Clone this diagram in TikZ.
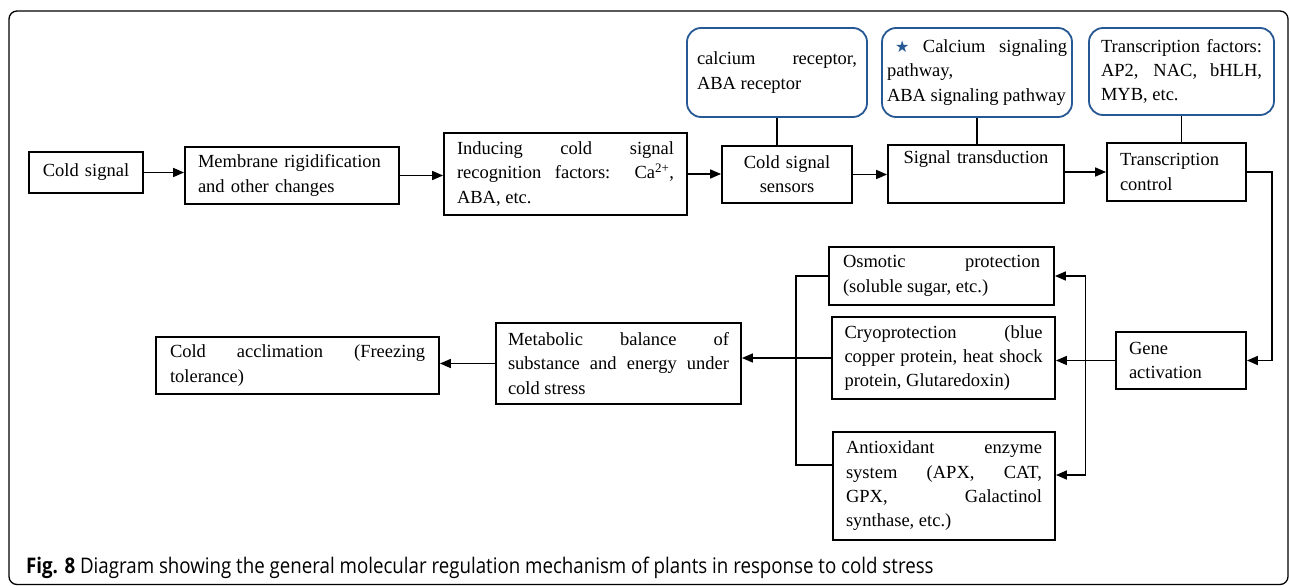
\documentclass[tikz,border=0pt]{standalone}
\usepackage{fontspec}
\setmainfont{Liberation Serif}
\newfontfamily\capfont[FakeStretch=0.87]{Open Sans}
\newfontfamily\symfont{DejaVu Sans}
\usetikzlibrary{arrows.meta,calc}
\definecolor{boxblue}{RGB}{38,88,148}
\tolerance=10000 \hbadness=10000 \hyphenpenalty=10000

\begin{document}
\begin{tikzpicture}[x=1pt,y=-1pt,
    box/.style={draw,line width=1.8pt,inner ysep=0pt,inner xsep=13pt,align=justify,
                font=\fontsize{18.5}{24.3}\selectfont},
    note/.style={box,draw=boxblue,rounded corners=14pt},
    flow/.style={line width=1.6pt,-{Triangle[length=11pt,width=9pt]}},
    link/.style={line width=1.6pt}]
            \useasboundingbox (0,0) rectangle (1290,586);
            \draw[line width=1.3pt,rounded corners=8pt] (9,11) rectangle (1288,584.5);

            % upper row
            \node[box,text width=88pt,minimum height=41pt,align=center] (cold) at (86,172.5) {Cold signal};
            \node[box,text width=188pt,minimum height=57pt,align=left] (memb) at (292,175.5) {Membrane rigidification\\and other changes};
            \node[box,text width=217pt,minimum height=82pt] (induc) at (565.5,174) {Inducing cold signal\linebreak recognition factors: Ca\textsuperscript{2+},\linebreak ABA, etc.};
            \node[box,text width=104pt,minimum height=57pt,align=center] (sens) at (787,174.5) {Cold signal\\sensors};
            \node[box,text width=150pt,minimum height=58pt,align=center,text height=11pt,text depth=33pt] (trans) at (976,174) {Signal transduction};
            \node[box,text width=113pt,minimum height=58pt,align=left] (tctrl) at (1176.5,172) {Transcription\\control};

            % notes above
            \node[note,inner xsep=10pt,text width=160pt,minimum height=89pt] (rec) at (777,72.5) {calcium receptor,\linebreak ABA receptor};
            \node[note,inner xsep=5pt,text width=180pt,minimum height=89pt] (path) at (977,72.5) {\hspace*{8pt}{\symfont\color{boxblue}\fontsize{16}{16}\selectfont ★} Calcium signaling\linebreak pathway,\\ABA signaling pathway};
            \node[note,inner xsep=12pt,text width=161pt,minimum height=87pt] (tf) at (1181.5,71.5) {Transcription factors:\linebreak AP2, NAC, bHLH,\linebreak MYB, etc.};

            % lower row
            \node[box,text width=104pt,minimum height=57pt,align=left] (gene) at (1181,360.5) {Gene\\activation};
            \node[box,inner xsep=14pt,text width=197pt,minimum height=58pt] (osmo) at (941.5,276) {Osmotic protection\linebreak (soluble sugar, etc.)};
            \node[box,inner xsep=12.5pt,text width=198pt,minimum height=82pt] (cryo) at (943.5,358) {Cryoprotection (blue\linebreak copper protein, heat shock\linebreak protein, Glutaredoxin)};
            \node[box,text width=196pt,minimum height=108pt] (antiox) at (944,486) {Antioxidant enzyme\linebreak system (APX, CAT,\linebreak GPX, Galactinol\linebreak synthase, etc.)};
            \node[box,inner xsep=12pt,text width=221pt,minimum height=81pt] (metab) at (618.5,363.5) {Metabolic balance of\linebreak substance and energy under\linebreak cold stress};
            \node[box,inner xsep=14pt,text width=255pt,minimum height=57pt] (accl) at (297.5,365.5) {Cold acclimation (Freezing\linebreak tolerance)};

            \coordinate (split) at ($(gene.west)!.5!(cryo.east)$);
            \coordinate (merge) at ($(cryo.west)+(-35,0)$);

            \draw[flow] (cold.east) -- (cold.east -| memb.west);
            \draw[flow] (memb.east) -- (memb.east -| induc.west);
            \draw[flow] (induc.east) -- (induc.east -| sens.west);
            \draw[flow] (sens.east) -- (sens.east -| trans.west);
            \draw[flow] (tctrl.west -| trans.east) -- (tctrl.west);
            \draw[flow] (tctrl.east) -- ++(25,0) |- (gene.east);
            \draw[flow] (gene.west) -- (gene.west -| cryo.east);
            \draw[flow] (split) |- (osmo.east);
            \draw[flow] (split) |- ([yshift=11pt]antiox.east);
            \draw[flow] (cryo.west) -- (cryo.west -| metab.east);
            \draw[flow] (metab.west) -- (metab.west -| accl.east);

            \draw[link] (rec.south) -- (rec.south |- sens.north)
                        (path.south) -- (path.south |- trans.north)
                        (tf.south) -- (tf.south |- tctrl.north)
                        (osmo.west) -| (merge) |- ([yshift=21pt]antiox.west);

            \node[anchor=base west,inner sep=0pt,font=\capfont\fontsize{21.5}{21.5}\selectfont] (cap) at (26,573)
                {\textbf{Fig. 8} Diagram showing the general molecular regulation mechanism of plants in response to cold stress};
\end{tikzpicture}
\end{document}
